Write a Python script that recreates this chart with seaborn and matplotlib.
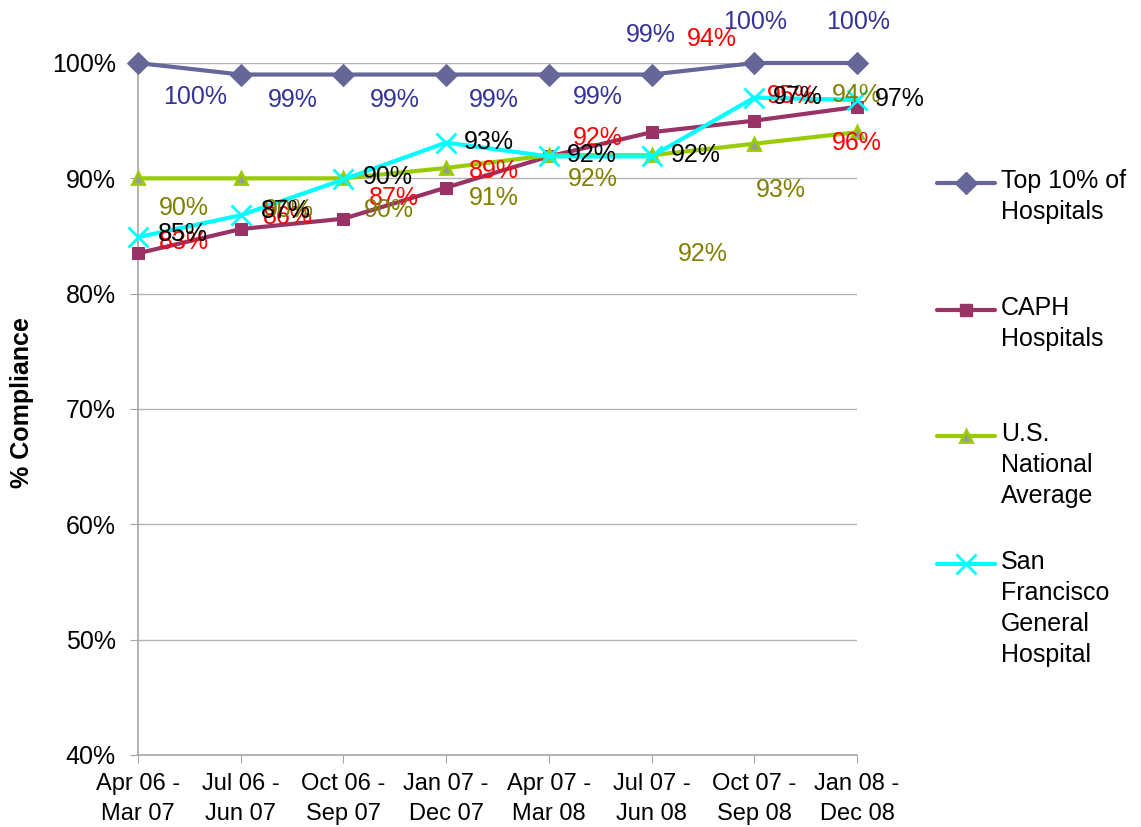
import pandas as pd
import matplotlib.pyplot as plt
import seaborn as sns
from matplotlib.lines import Line2D

# periods on the x axis
periods = ['Apr 06 -\nMar 07', 'Jul 06 -\nJun 07', 'Oct 06 -\nSep 07', 'Jan 07 -\nDec 07',
           'Apr 07 -\nMar 08', 'Jul 07 -\nJun 08', 'Oct 07 -\nSep 08', 'Jan 08 -\nDec 08']

# series values (% compliance)
top10 = [100, 99, 99, 99, 99, 99, 100, 100]
caph = [83.5, 85.6, 86.5, 89.2, 91.9, 94.0, 95.0, 96.2]
us_avg = [90, 90, 90, 90.9, 92, 92, 93, 94]
sfgh = [84.9, 86.8, 89.9, 93.1, 91.9, 91.9, 97.0, 96.8]

# data labels as printed on the chart
top10_lbl = ['100%', '99%', '99%', '99%', '99%', '99%', '100%', '100%']
caph_lbl = ['83%', '86%', '87%', '89%', '92%', '94%', '95%', '96%']
us_lbl = ['90%', '90%', '90%', '91%', '92%', '92%', '93%', '94%']
sfgh_lbl = ['85%', '87%', '90%', '93%', '92%', '92%', '97%', '97%']

series_names = ['Top 10% of\nHospitals', 'CAPH\nHospitals', 'U.S.\nNational\nAverage',
                'San\nFrancisco\nGeneral\nHospital']

# label offsets in pixels (dx right, dy down) -- layout only
top10_off = [(57, 34), (52, 25), (51, 25), (48, 25), (49, 22), (-1, -40), (1, -41), (1, -41)]
caph_off = [(46, -11), (47, -12), (50, -21), (48, -17), (49, -18), (60, -93), (38, -25), (0, 36)]
us_off = [(46, 30), (48, 32), (45, 32), (48, 30), (44, 24), (51, 99), (27, 46), (0, -37)]
sfgh_off = [(45, -3), (45, -4), (44, -2), (43, -1), (43, -1), (44, -1), (44, -1), (43, -1)]

sns.set_style('white')
plt.rcParams['font.family'] = ['Liberation Sans', 'DejaVu Sans']
plt.rcParams['text.color'] = 'black'
plt.rcParams['axes.labelcolor'] = 'black'

W, H = 1141, 827
fig = plt.figure(figsize=(W / 100, H / 100), dpi=100)
ax = fig.add_axes([138 / W, 1 - 755 / H, (857 - 138) / W, (755 - 63) / H])

x = list(range(len(periods)))
styles = [
    (top10, dict(color='#666699', marker='D', markersize=11, markerfacecolor='#666699',
                 markeredgecolor='#666699')),
    (caph, dict(color='#993366', marker='s', markersize=9, markerfacecolor='#993366',
                markeredgecolor='#993366')),
    (us_avg, dict(color='#99cc00', marker='^', markersize=9, markerfacecolor='#999999',
                  markeredgecolor='#99cc00', markeredgewidth=2)),
    (sfgh, dict(color='#00ffff', marker='x', markersize=14, markeredgecolor='#00ffff',
                markeredgewidth=2)),
]

for vals, kw in styles:
    df = pd.DataFrame({'period': x, 'value': vals})
    sns.lineplot(data=df, x='period', y='value', ax=ax, linewidth=3, clip_on=False,
                 zorder=3, **kw)

label_sets = [(top10, top10_lbl, top10_off, '#333399'),
              (caph, caph_lbl, caph_off, '#ff0000'),
              (us_avg, us_lbl, us_off, '#808000'),
              (sfgh, sfgh_lbl, sfgh_off, 'black')]
for vals, lbls, offs, col in label_sets:
    for xi, v, t, (dx, dy) in zip(x, vals, lbls, offs):
        ax.annotate(t, (xi, v), xytext=(dx, -dy), textcoords='offset pixels',
                    ha='center', va='center', fontsize=18, color=col,
                    annotation_clip=False, zorder=5)

ax.set_xlim(0, 7)
ax.set_ylim(40, 100)
ax.set_yticks(range(40, 101, 10))
ax.set_yticklabels([f'{v}%' for v in range(40, 101, 10)], fontsize=18)
ax.set_xticks(x)
ax.set_xticklabels(periods, fontsize=17, linespacing=1.45)
ax.set_xlabel('')
ax.set_ylabel('% Compliance', fontsize=18, fontweight='bold')
ax.yaxis.set_label_coords(-0.145, 0.51)

for y in range(50, 101, 10):
    ax.axhline(y, color='#b3b3b3', linewidth=1, zorder=1)
for s in ['top', 'right']:
    ax.spines[s].set_visible(False)
for s in ['left', 'bottom']:
    ax.spines[s].set_color('#a6a6a6')
    ax.spines[s].set_linewidth(1.2)
ax.tick_params(axis='y', left=True, length=6, color='#a6a6a6', labelcolor='black', pad=10)
ax.tick_params(axis='x', bottom=True, length=6, color='#a6a6a6', labelcolor='black', pad=7)

# legend drawn on the figure, marker aligned with first text line (Excel style)
leg_y = [183, 310, 436, 564]
for (vals, kw), name, ym in zip(styles, series_names, leg_y):
    fy = 1 - ym / H
    fig.add_artist(Line2D([937 / W, 966 / W, 995 / W], [fy, fy, fy],
                          transform=fig.transFigure, linewidth=3, markevery=[1], **kw))
    for i, line in enumerate(name.split('\n')):
        fig.text(1001 / W, 1 - (ym - 2 + i * 31) / H, line, fontsize=18,
                 ha='left', va='center')

fig.savefig('out.png', dpi=100, facecolor='white')
